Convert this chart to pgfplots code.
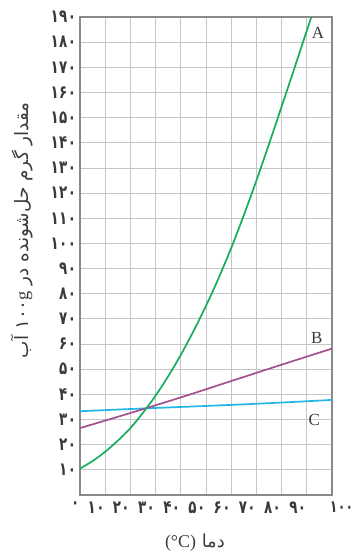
\documentclass[border=0pt]{standalone}
\usepackage{pgfplots}
\pgfplotsset{compat=1.18}
\usepackage{graphicx}
\usepackage{fontspec}
\setmainfont{Liberation Serif}
\newfontfamily\arabicfont[Script=Arabic]{DejaVu Sans}
\newfontfamily\digitfont[LetterSpace=3]{DejaVu Sans Bold}
\newcommand\pd[1]{\scalebox{1}[1.35]{#1}}
\TeXXeTstate=1

\definecolor{curveA}{HTML}{17AD5E}
\definecolor{curveB}{HTML}{A3508E}
\definecolor{curveC}{HTML}{22B5EA}
\definecolor{gridgray}{HTML}{C6C6C6}
\definecolor{framegray}{HTML}{8A8A8A}
\definecolor{textgray}{HTML}{3A3A3A}

\begin{document}
\begin{tikzpicture}
\begin{axis}[
    scale only axis,
    width=252bp, height=478bp,
    xmin=0, xmax=100, ymin=0, ymax=190,
    xtick={0,10,...,100},
    ytick={10,20,...,190},
    xticklabels={\pd{۰},\pd{۱۰},\pd{۲۰},\pd{۳۰},\pd{۴۰},\pd{۵۰},\pd{۶۰},\pd{۷۰},\pd{۸۰},\pd{۹۰},\makebox[0pt][l]{\hspace{-1.5bp}\pd{\fontsize{12.5}{15}\selectfont ۱۰۰}}},
    yticklabels={\pd{۱۰},\pd{۲۰},\pd{۳۰},\pd{۴۰},\pd{۵۰},\pd{۶۰},\pd{۷۰},\pd{۸۰},\pd{۹۰},\pd{۱۰۰},\pd{۱۱۰},\pd{۱۲۰},\pd{۱۳۰},\pd{۱۴۰},\pd{۱۵۰},\pd{۱۶۰},\pd{۱۷۰},\pd{۱۸۰},\pd{۱۹۰}},
    grid=major,
    grid style={draw=gridgray, line width=0.9bp},
    major tick length=0pt,
    axis line style={draw=framegray, line width=1.3bp},
    ticklabel style={font=\digitfont\fontsize{13.5}{16}\selectfont, text=textgray},
    xticklabel style={anchor=north east, inner xsep=0.5bp, yshift=-3bp},
    yticklabel style={xshift=-0.5bp},
    every axis x label/.style={at={(rel axis cs:0.456,-0.100)}, anchor=center},
    every axis y label/.style={at={(rel axis cs:-0.230,0.554)}, rotate=90, anchor=center},
    xlabel={\arabicfont\fontsize{18}{20}\selectfont\color{textgray}\beginR دما \beginL{\rmfamily(°C)}\endL{}\endR},
    ylabel={\arabicfont\fontsize{18.5}{21}\selectfont\color{textgray}\beginR مقدار گرم حل‌شونده در \beginL ۱۰۰{\rmfamily g}\endL{} آب\endR},
]
% thick lower frame
\draw[framegray, line width=2.8bp] (axis cs:0,100) -- (axis cs:0,0) -- (axis cs:100,0) -- (axis cs:100,100);

% C
\addplot[curveC, line width=1.7bp, smooth] coordinates {
    (0,33.3) (25,34.4) (50,35.4) (75,36.5) (100,37.8)
};
% B
\addplot[curveB, line width=1.7bp, smooth] coordinates {
    (0,26.6) (20,32.6) (40,38.8) (60,45.3) (80,51.8) (100,58.2)
};
% A
\addplot[curveA, line width=1.7bp, smooth] coordinates {
    (0,10.5) (5,13.5) (10,17.2) (15,21.6) (20,26.6) (25,32.7) (30,39.5)
    (35,47.2) (40,55.7) (45,65.1) (50,75.2) (55,86.2) (60,98.2)
    (65,111.2) (70,125) (75,139.5) (80,154.4) (85,169.4) (90,184.6) (91.8,190)
};

\node[font=\fontsize{17}{17}\selectfont, text=textgray] at (axis cs:94.4,183.7) {A};
\node[font=\fontsize{17}{17}\selectfont, text=textgray] at (axis cs:94,62.4) {B};
\node[font=\fontsize{17}{17}\selectfont, text=textgray] at (axis cs:93,29.8) {C};

\coordinate (bbl) at (rel axis cs:-0.3175,-0.1255);
\coordinate (btr) at (rel axis cs:1.0873,1.0356);
\end{axis}
\path (bbl) rectangle (btr);
\end{tikzpicture}
\end{document}
